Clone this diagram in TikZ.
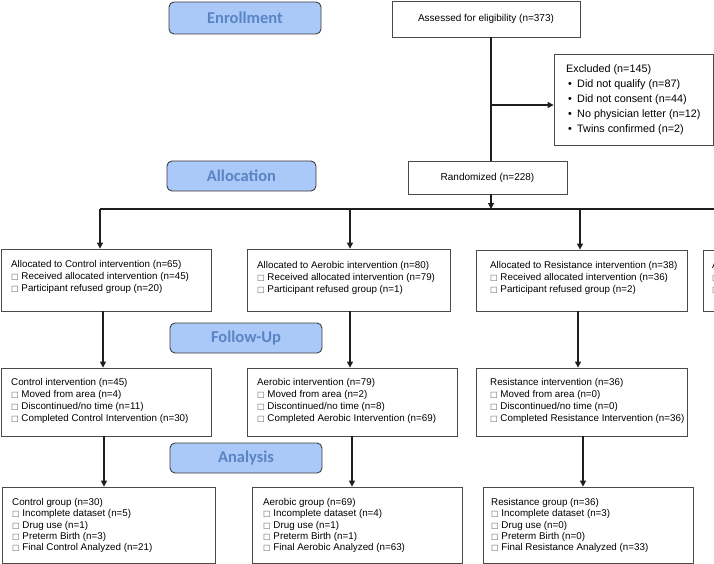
\documentclass[tikz,border=0pt]{standalone}
\usepackage{fontspec}
\setmainfont{Liberation Sans}
\newfontfamily\labelfont{Carlito}
\newfontfamily\symfont{DejaVu Sans}
\usetikzlibrary{arrows.meta,calc}
\definecolor{lblfill}{HTML}{AAC8F8}
\definecolor{lbltext}{HTML}{5A84C4}
\definecolor{lblline}{HTML}{3C3C3C}
\definecolor{boxline}{HTML}{4A4A4A}
\definecolor{connc}{HTML}{1E1E1E}
\newcommand\sqm{{\fontsize{8}{8}\symfont\color{black!65}□}\ }
\newcommand\bul{\makebox[11pt][l]{\hspace{2pt}•}}
\newcommand\boxat[5]{\node[stdbox, minimum width={(#4-#2)*1pt}, minimum height={(#5-#3)*1pt}] (#1) at ({(#2+#4)/2},{(#3+#5)/2}) {};}
\newcommand\phaseat[6]{\node[phase, minimum width={(#4-#2)*1pt}, minimum height={(#5-#3)*1pt}] (#1) at ({(#2+#4)/2},{(#3+#5)/2}) {#6};}
\begin{document}
\begin{tikzpicture}[x=1pt,y=-1pt,
  phase/.style={draw=lblline, line width=0.9pt, fill=lblfill, rounded corners=5pt, inner sep=0pt,
    font=\labelfont\bfseries\fontsize{16.5}{18}\selectfont, text=lbltext},
  stdbox/.style={draw=boxline, line width=0.8pt, inner sep=0pt, fill=white},
  txt/.style={inner sep=0pt, anchor=west, align=left, font=\fontsize{9.8}{12}\selectfont},
  txtb/.style={inner sep=0pt, anchor=west, align=left, font=\fontsize{9.8}{11.3}\selectfont},
  txtx/.style={inner sep=0pt, anchor=west, align=left, font=\fontsize{10.8}{15}\selectfont},
  ctxt/.style={inner sep=0pt, font=\fontsize{10}{12}\selectfont},
  conn/.style={draw=connc, line width=1.2pt},
  arr/.style={conn, -{Triangle[length=6pt,width=6pt]}}]
\useasboundingbox (0,0) rectangle (714,564);
\clip (0,0) rectangle (714,564);

% phase labels
\phaseat{enroll}{169}{2}{321}{34}{Enrollment}
\phaseat{alloc}{167}{161}{316}{191}{Allocation}
\phaseat{follow}{170}{323}{322}{353}{Follow-Up}
\phaseat{analysis}{170}{443}{322}{473}{Analysis}

% top boxes
\boxat{assess}{392}{1}{580}{37}
\node[ctxt] (assesst) at (assess) {Assessed for eligibility (n=373)};
\boxat{excl}{554}{54}{713}{145}
\node[txtx] (exclt) at (566,100) {Excluded (n=145)\\
\bul Did not qualify (n=87)\\
\bul Did not consent (n=44)\\
\bul No physician letter (n=12)\\
\bul Twins confirmed (n=2)};
\boxat{rand}{408}{161}{567}{194}
\node[ctxt] (randt) at (rand) {Randomized (n=228)};

% allocation row
\boxat{ca}{1}{249}{211}{311}
\node[txt] (cat) at (11,277) {Allocated to Control intervention (n=65)\\
\sqm Received allocated intervention (n=45)\\
\sqm Participant refused group (n=20)};
\boxat{aa}{247}{249}{450}{311}
\node[txt] (aat) at (257,278) {Allocated to Aerobic intervention (n=80)\\
\sqm Received allocated intervention (n=79)\\
\sqm Participant refused group (n=1)};
\boxat{ra}{476}{250}{687}{311}
\node[txt] (rat) at (490,278) {Allocated to Resistance intervention (n=38)\\
\sqm Received allocated intervention (n=36)\\
\sqm Participant refused group (n=2)};
\boxat{xa}{703}{250}{800}{311}
\node[txt] (xat) at (712,278) {A\\ \sqm \\ \sqm};

% follow-up row
\boxat{cf}{1}{368}{211}{436}
\node[txt] (cft) at (11,401) {Control intervention (n=45)\\
\sqm Moved from area (n=4)\\
\sqm Discontinued/no time (n=11)\\
\sqm Completed Control Intervention (n=30)};
\boxat{af}{247}{368}{457}{436}
\node[txt] (aft) at (257,401) {Aerobic intervention (n=79)\\
\sqm Moved from area (n=2)\\
\sqm Discontinued/no time (n=8)\\
\sqm Completed Aerobic Intervention (n=69)};
\boxat{rf}{476}{368}{687}{436}
\node[txt] (rft) at (490,401) {Resistance intervention (n=36)\\
\sqm Moved from area (n=0)\\
\sqm Discontinued/no time (n=0)\\
\sqm Completed Resistance Intervention (n=36)};

% analysis row
\boxat{cg}{2}{487}{215}{563}
\node[txtb] (cgt) at (12,525.5) {Control group (n=30)\\
\sqm Incomplete dataset (n=5)\\
\sqm Drug use (n=1)\\
\sqm Preterm Birth (n=3)\\
\sqm Final Control Analyzed (n=21)};
\boxat{ag}{252}{487}{462}{563}
\node[txtb] (agt) at (263,525.5) {Aerobic group (n=69)\\
\sqm Incomplete dataset (n=4)\\
\sqm Drug use (n=1)\\
\sqm Preterm Birth (n=1)\\
\sqm Final Aerobic Analyzed (n=63)};
\boxat{rg}{483}{487}{693}{563}
\node[txtb] (rgt) at (491,525.5) {Resistance group (n=36)\\
\sqm Incomplete dataset (n=3)\\
\sqm Drug use (n=0)\\
\sqm Preterm Birth (n=0)\\
\sqm Final Resistance Analyzed (n=33)};

% coordinates
\coordinate (mainx) at (491,0);
\coordinate (exjoin) at (491,105);
\coordinate (barL) at (100,209);
\coordinate (barR) at (720,209);
\coordinate (c1) at (100,0);
\coordinate (a1) at (350,0);
\coordinate (r1) at (580,0);
\coordinate (c2) at (103,0);
\coordinate (a2) at (350,0);
\coordinate (r2) at (578,0);
\coordinate (c3) at (104,0);
\coordinate (a3) at (352,0);
\coordinate (r3) at (583,0);

% connectors
\draw[conn] (assess.south -| mainx) -- (rand.north -| mainx);
\draw[arr] (exjoin) -- (exjoin -| excl.west);
\draw[arr] (rand.south -| mainx) -- (mainx |- barL);
\draw[conn] (barL) -- (barR);
\draw[arr] (c1 |- barL) -- (c1 |- ca.north);
\draw[arr] (a1 |- barL) -- (a1 |- aa.north);
\draw[arr] (r1 |- barL) -- (r1 |- ra.north);
\draw[arr] (c2 |- ca.south) -- (c2 |- cf.north);
\draw[arr] (a2 |- aa.south) -- (a2 |- af.north);
\draw[arr] (r2 |- ra.south) -- (r2 |- rf.north);
\draw[arr] (c3 |- cf.south) -- (c3 |- cg.north);
\draw[arr] (a3 |- af.south) -- (a3 |- ag.north);
\draw[arr] (r3 |- rf.south) -- (r3 |- rg.north);
\end{tikzpicture}
\end{document}
